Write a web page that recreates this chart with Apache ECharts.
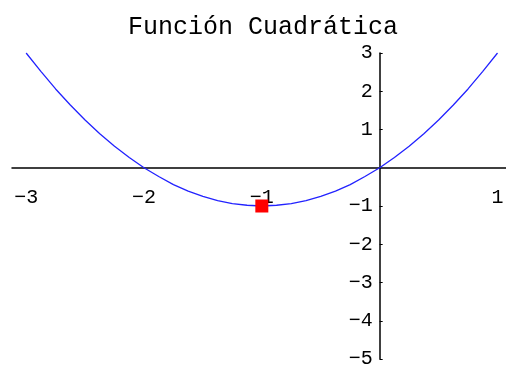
<!DOCTYPE html>
<html>
<head>
<meta charset="utf-8">
<style>
  html, body { margin: 0; padding: 0; background: #fff; }
  #chart { width: 506px; height: 369px; }
</style>
<script src="https://cdn.jsdelivr.net/npm/echarts@6/dist/echarts.min.js"></script>
</head>
<body>
<div id="chart"></div>
<script>
// y = x² + 2x sampled along the plotted range
const xValues = [-3, -2.875, -2.75, -2.625, -2.5, -2.375, -2.25, -2.125, -2,
  -1.875, -1.75, -1.625, -1.5, -1.375, -1.25, -1.125, -1,
  -0.875, -0.75, -0.625, -0.5, -0.375, -0.25, -0.125, 0,
  0.125, 0.25, 0.375, 0.5, 0.625, 0.75, 0.875, 1];
const yValues = [3, 2.52, 2.06, 1.64, 1.25, 0.89, 0.56, 0.27, 0,
  -0.23, -0.44, -0.61, -0.75, -0.86, -0.94, -0.98, -1,
  -0.98, -0.94, -0.86, -0.75, -0.61, -0.44, -0.23, 0,
  0.27, 0.56, 0.89, 1.25, 1.64, 2.06, 2.52, 3];

// vertex of the parabola
const vertex = [-1, -1];

// tick labels
const xTicks = [-3, -2, -1, 1];
const yTicks = [-5, -4, -3, -2, -1, 1, 2, 3];

const titleText = 'Función Cuadrática';
const monoFont = '"Courier New", "Liberation Mono", monospace';

// plot frame (pixels) and axis ranges
const W = 506, H = 369;
const gridBox = { left: 12, right: 0, top: 53, bottom: 10 };
const xRange = [-3.12, 1.072];
const yRange = [-5, 3];

// place both axes through the origin (crossing axes)
const plotW = W - gridBox.left - gridBox.right;
const plotH = H - gridBox.top - gridBox.bottom;
const x0px = (0 - xRange[0]) / (xRange[1] - xRange[0]) * plotW;   // from grid left
const y0px = (0 - yRange[0]) / (yRange[1] - yRange[0]) * plotH;   // from grid bottom

const curve = xValues.map((x, i) => [x, yValues[i]]);
const fmt = v => (v < 0 ? '\u2212' + Math.abs(v) : String(v));

const chart = echarts.init(document.getElementById('chart'), null, { renderer: 'canvas' });
chart.setOption({
  animation: false,
  backgroundColor: '#ffffff',
  graphic: [{
    type: 'text',
    x: 263,
    y: 15,
    style: {
      text: titleText,
      font: 'normal 25px ' + monoFont,
      fill: '#000',
      textAlign: 'center',
      textVerticalAlign: 'top'
    }
  }],
  grid: Object.assign({ containLabel: false, outerBoundsMode: 'none' }, gridBox),
  xAxis: {
    type: 'value',
    position: 'bottom',
    offset: -y0px,
    min: xRange[0],
    max: xRange[1],
    splitLine: { show: false },
    axisLine: { show: true, onZero: false, lineStyle: { color: '#000', width: 1.5 } },
    axisTick: { show: false },
    axisLabel: {
      customValues: xTicks,
      formatter: fmt,
      margin: 20,
      color: '#000',
      fontSize: 20,
      fontFamily: monoFont
    }
  },
  yAxis: {
    type: 'value',
    position: 'left',
    offset: -x0px,
    min: yRange[0],
    max: yRange[1],
    splitLine: { show: false },
    axisLine: { show: true, onZero: false, lineStyle: { color: '#000', width: 1.5 } },
    axisTick: {
      show: true,
      inside: true,
      length: 3,
      customValues: yTicks,
      lineStyle: { color: '#000', width: 1 }
    },
    axisLabel: {
      customValues: yTicks,
      formatter: fmt,
      margin: 7,
      color: '#000',
      fontSize: 20,
      fontFamily: monoFont
    }
  },
  series: [
    {
      type: 'line',
      data: curve,
      smooth: false,
      showSymbol: false,
      lineStyle: { color: '#2222ff', width: 1.3 },
      z: 2
    },
    {
      type: 'scatter',
      data: [vertex],
      symbol: 'rect',
      symbolSize: 13,
      itemStyle: { color: '#ff0000', opacity: 1 },
      z: 5
    }
  ]
});
</script>
</body>
</html>
